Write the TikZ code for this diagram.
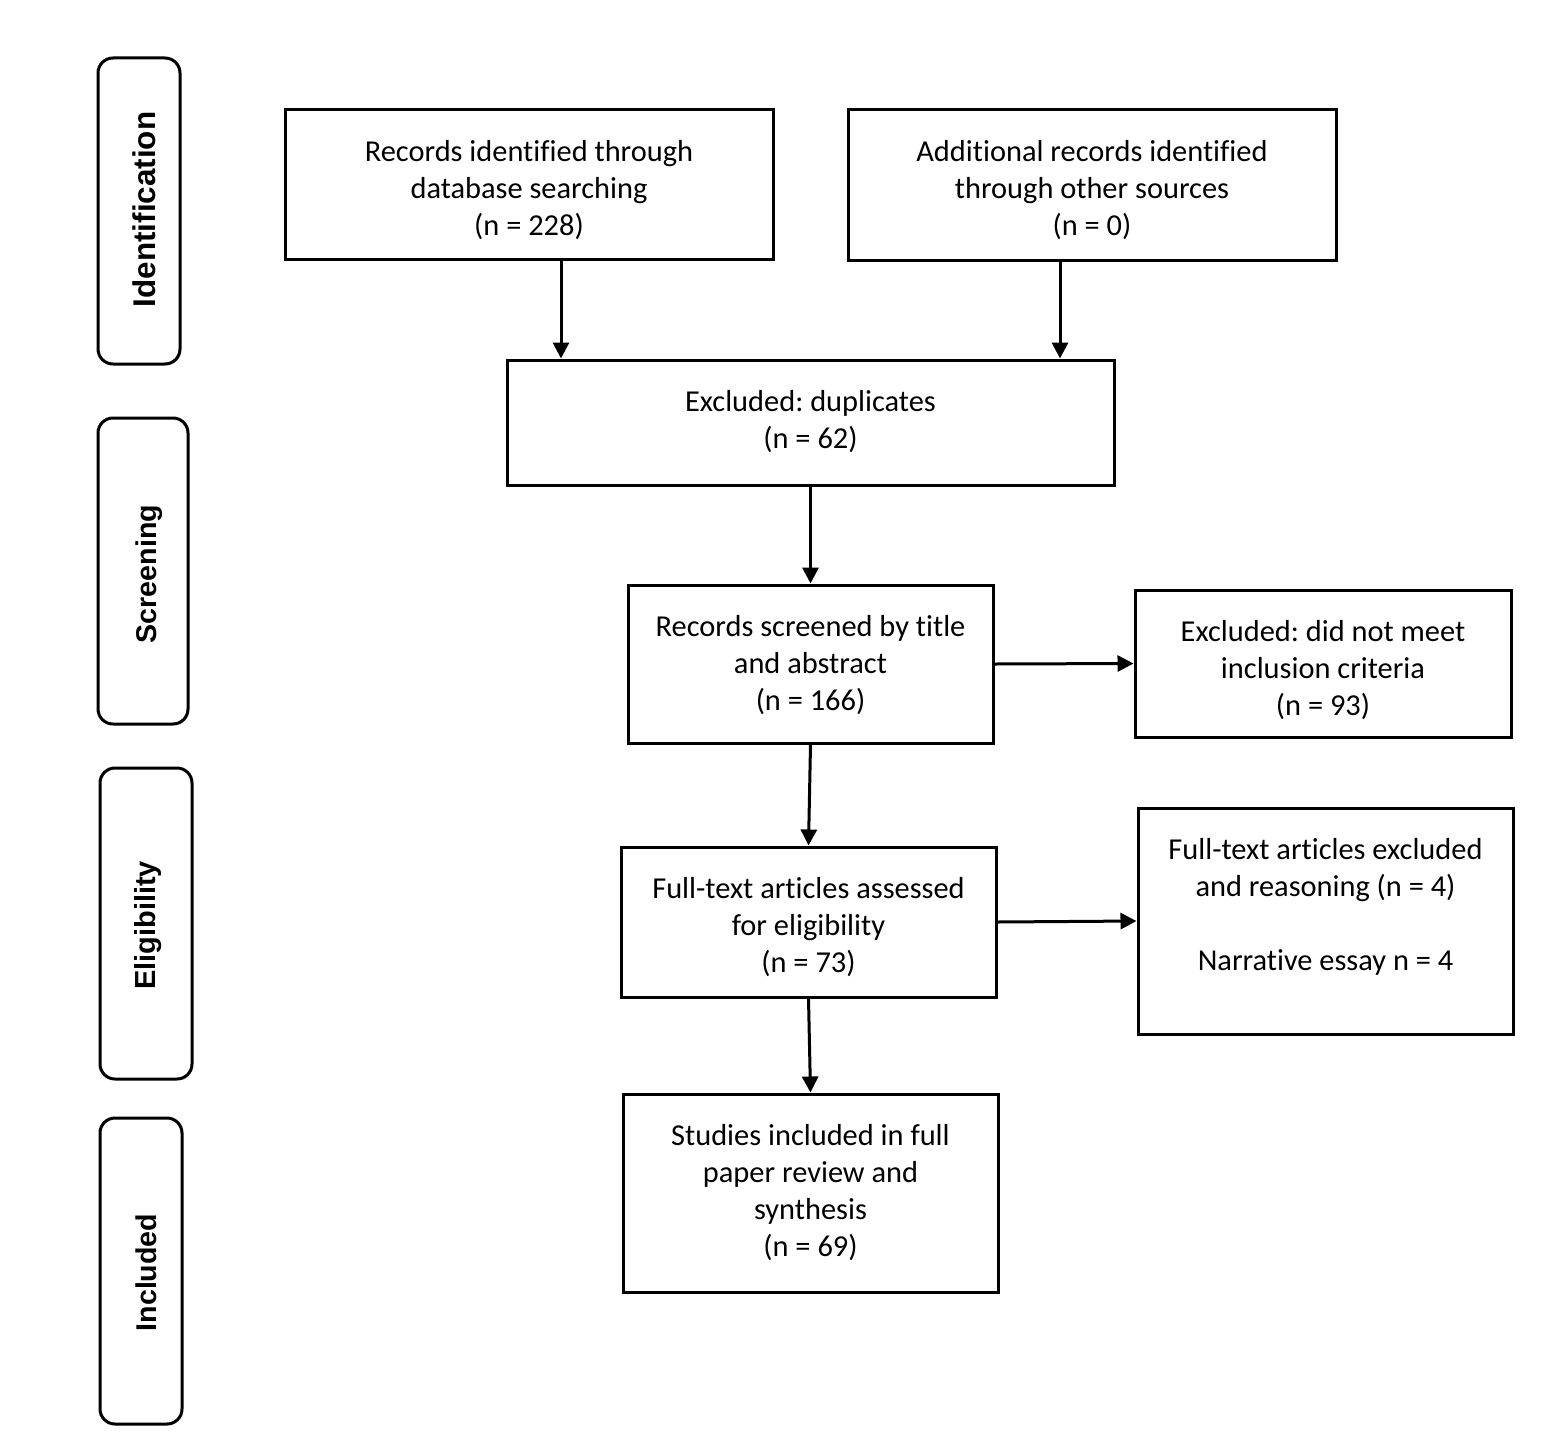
\documentclass[tikz,border=0pt]{standalone}
\usepackage{fontspec}
\setmainfont{Carlito}[Ligatures=NoCommon]
\newfontfamily\sidefont{Liberation Sans}
\usetikzlibrary{arrows.meta}
\frenchspacing
\begin{document}
\begin{tikzpicture}[x=0.5pt,y=-0.5pt,
  box/.style={draw,line width=1.5pt,inner sep=0pt},
  txt/.style={align=center,font=\fontsize{15.2}{18.5}\selectfont,inner sep=0pt},
  sidebox/.style={draw,line width=1.5pt,rounded corners=7.5pt,inner sep=0pt},
  sidetxt/.style={rotate=90,font=\sidefont\bfseries\fontsize{#1}{18}\selectfont,inner sep=0pt},
  arr/.style={line width=1.5pt,-{Triangle[width=8pt,length=8pt]}}]
\useasboundingbox (0,0) rectangle (1562,1445);
\fill[white] (0,0) rectangle (1562,1445);
% phase labels
\node[sidebox,minimum width=41pt,minimum height=153pt] (s1) at (139,211) {};
\node[sidebox,minimum width=45pt,minimum height=153pt] (s2) at (143,571) {};
\node[sidebox,minimum width=46pt,minimum height=155.5pt] (s3) at (146,923.5) {};
\node[sidebox,minimum width=41pt,minimum height=153pt] (s4) at (141,1271) {};
\node[sidetxt=15.7] (l1) at ([xshift=2.5pt,yshift=0.75pt]s1.center) {Identification};
\node[sidetxt=14.3] (l2) at ([xshift=3pt,yshift=-1.5pt]s2.center) {Screening};
\node[sidetxt=14.5] (l3) at ([xshift=1.25pt,yshift=-1pt]s3.center) {Eligibility};
\node[sidetxt=14.3] (l4) at ([xshift=2.5pt,yshift=-0.75pt]s4.center) {Included};
% boxes
\node[box,minimum width=244pt,minimum height=74.5pt] (A) at (529,184.5) {};
\node[box,minimum width=244pt,minimum height=75pt] (B) at (1092,185) {};
\node[box,minimum width=303.5pt,minimum height=62.5pt] (C) at (810.5,422.5) {};
\node[box,minimum width=182.5pt,minimum height=79pt] (D) at (810.5,664) {};
\node[box,minimum width=188pt,minimum height=73.5pt] (E) at (1323,663.5) {};
\node[box,minimum width=187.5pt,minimum height=75pt] (F) at (808.5,922) {};
\node[box,minimum width=187.5pt,minimum height=113pt] (G) at (1325.5,921) {};
\node[box,minimum width=187.5pt,minimum height=99pt] (H) at (810.5,1193) {};
% texts
\node[txt] (tA) at ([yshift=-3pt]A.center) {Records identified through\\database searching\\(n = 228)};
\node[txt] (tB) at ([yshift=-2.5pt]B.center) {Additional records identified\\through other sources\\(n = 0)};
\node[txt] (tC) at ([yshift=0.5pt]C.center) {Excluded: duplicates\\(n = 62)};
\node[txt] (tD) at ([yshift=-0.5pt]D.center) {Records screened by title\\and abstract\\(n = 166)};
\node[txt] (tE) at ([yshift=-3.5pt]E.center) {Excluded: did not meet\\inclusion criteria\\(n = 93)};
\node[txt] (tF) at ([yshift=-2.5pt]F.center) {Full-text articles assessed\\for eligibility\\(n = 73)};
\node[txt] (tG) at ([yshift=-1pt]G.center) {Full-text articles excluded\\and reasoning (n = 4)\\\mbox{}\\Narrative essay n = 4\\\mbox{}};
\node[txt] (tH) at (H.center) {Studies included in full\\paper review and\\synthesis\\(n = 69)};
% connectors
\coordinate (xa) at (561,0);
\coordinate (xb) at (1060,0);
\draw[arr] (A.south -| xa) -- (C.north -| xa);
\draw[arr] (B.south -| xb) -- (C.north -| xb);
\draw[arr] (C.south) -- (D.north);
\draw[arr] (D.east) -- (E.west);
\draw[arr] (D.south) -- (F.north);
\draw[arr] (F.east) -- (G.west);
\draw[arr] (F.south) -- (H.north);
\end{tikzpicture}
\end{document}
